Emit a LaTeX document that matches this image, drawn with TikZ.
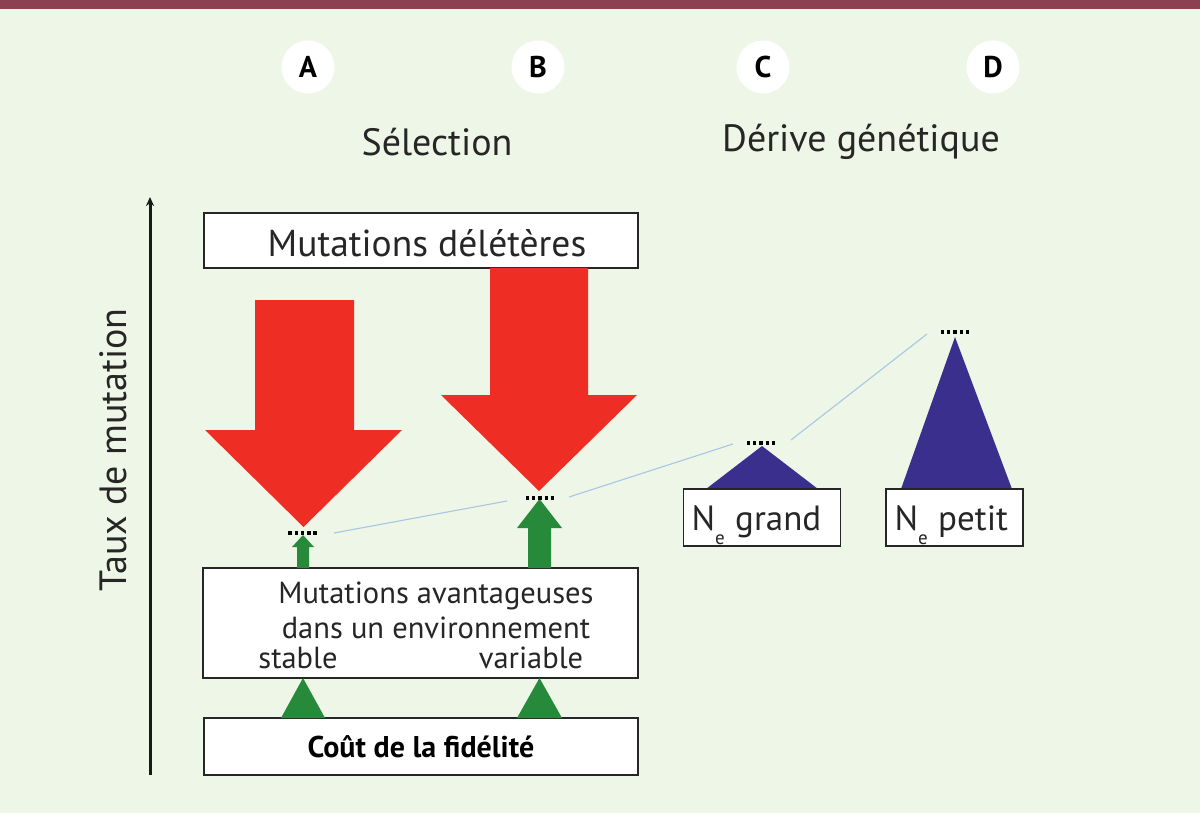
\documentclass[tikz,border=0pt]{standalone}
\usepackage{fontspec}
\setmainfont{PT Sans}
\usetikzlibrary{arrows.meta}
\definecolor{bg}{HTML}{EEF6E7}
\definecolor{stripe}{HTML}{8C4150}
\definecolor{redar}{HTML}{EE2E24}
\definecolor{greenar}{HTML}{268A3A}
\definecolor{bluetri}{HTML}{3B2F8E}
\definecolor{linkblue}{HTML}{A7C7E2}
\begin{document}
\begin{tikzpicture}[x=1pt,y=-1pt,
  circ/.style={circle,fill=white,minimum size=53pt,inner sep=0pt,font=\bfseries\fontsize{30}{30}\selectfont},
  title/.style={font=\fontsize{38}{38}\selectfont,text=black!85},
  box/.style={draw=black!85,line width=1.5pt,fill=white,inner sep=0pt},
  boxtext/.style={font=\fontsize{37.5}{37.5}\selectfont,text=black!85},
  netext/.style={font=\fontsize{35}{35}\selectfont,text=black!85},
  smalltext/.style={font=\fontsize{30.5}{30.5}\selectfont,text=black!85,anchor=base},
  dotrow/.style={minimum width=34pt,minimum height=5pt,inner sep=0pt,
    path picture={\foreach \k in {-2,...,2}
      \fill[black] ([xshift=\k*6.3pt]path picture bounding box.center) +(-1.7,-1.7) rectangle +(1.7,1.7);}},
  link/.style={linkblue,line width=1.1pt},
  redfill/.style={fill=redar},
  greenfill/.style={fill=greenar},
  bluefill/.style={fill=bluetri}
]
\useasboundingbox (0,0) rectangle (1200,813);
\fill[bg] (0,0) rectangle (1200,813);
\fill[stripe] (0,0) rectangle (1200,9);

% letters
\node[circ] (cA) at (308,67) {A};
\node[circ] (cB) at (538,67) {B};
\node[circ] (cC) at (763,67) {C};
\node[circ] (cD) at (993,67) {D};

\node[title] (sel) at (437,142) {Sélection};
\node[title] (der) at (861,142) {Dérive génétique};

% axis
\coordinate (axb) at (150,775);
\coordinate (axt) at (150,197);
\draw[line width=3pt,black!90,-{Stealth[length=9pt,width=8pt]}] (axb) -- (axt);
\node[title,rotate=90] (taux) at (113,450) {Taux de mutation};

% boxes
\node[box,minimum width=434pt,minimum height=55pt] (del) at (421,240.5) {};
\node[boxtext] (delt) at (427,243) {Mutations délétères};
\node[box,minimum width=435pt,minimum height=110pt] (avt) at (420.5,623) {};
\node[smalltext] (av1) at (436,603) {Mutations avantageuses};
\node[smalltext] (av2) at (436,638) {dans un environnement};
\node[smalltext] (av3) at (298,668) {stable};
\node[smalltext] (av4) at (531,668) {variable};
\node[box,minimum width=434pt,minimum height=57pt,font=\bfseries\fontsize{30}{30}\selectfont] (cout) at (421,746.5) {Coût de la fidélité};

% red arrows
\fill[redfill] (255,300) -- (354,300) -- (354,430) -- (402,430) -- (303.5,527) -- (205,430) -- (255,430) -- cycle;
\fill[redfill] (490,268) -- (588,268) -- (588,395) -- (637,395) -- (539,491) -- (441,395) -- (490,395) -- cycle;

% green arrows
\fill[greenfill] (297,568) -- (297,547) -- (292,547) -- (303,535) -- (314,547) -- (309,547) -- (309,568) -- cycle;
\fill[greenfill] (528,568) -- (528,528) -- (517,528) -- (539.5,499) -- (562,528) -- (551,528) -- (551,568) -- cycle;
\fill[greenfill] (281,718) -- (303,678) -- (325,718) -- cycle;
\fill[greenfill] (517,718) -- (539.5,678) -- (562,718) -- cycle;

% blue triangles
\fill[bluefill] (706,489) -- (762,446) -- (818,489) -- cycle;
\fill[bluefill] (901,489) -- (955,337) -- (1012,489) -- cycle;

% Ne boxes
\node[box,minimum width=157pt,minimum height=57pt] (neg) at (762,517.5) {};
\node[netext,anchor=base west] (negt) at (688,530) {N\raisebox{-0.42em}{\fontsize{19}{19}\selectfont e}\hspace{0.3em}grand};
\node[box,minimum width=137pt,minimum height=57pt] (nep) at (954.5,517.5) {};
\node[netext,anchor=base west] (nept) at (891,530) {N\raisebox{-0.42em}{\fontsize{19}{19}\selectfont e}\hspace{0.3em}petit};

% dots
\node[dotrow] (dA) at (302.5,533) {};
\node[dotrow] (dB) at (540,498) {};
\node[dotrow] (dC) at (761,443) {};
\node[dotrow] (dD) at (955,332) {};

% links
\coordinate (l1s) at (334,533);
\coordinate (l1e) at (507,501);
\coordinate (l2s) at (569,497);
\coordinate (l2e) at (733,444);
\coordinate (l3s) at (791,440);
\coordinate (l3e) at (927,334);
\draw[link] (l1s) -- (l1e);
\draw[link] (l2s) -- (l2e);
\draw[link] (l3s) -- (l3e);
\end{tikzpicture}
\end{document}
